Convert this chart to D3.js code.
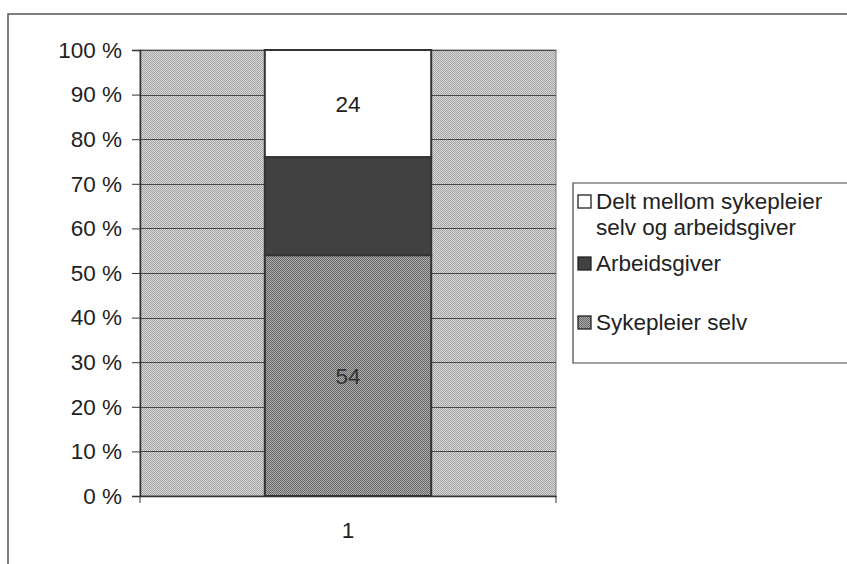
<!DOCTYPE html>
<html><head><meta charset="utf-8">
<script src="https://cdn.jsdelivr.net/npm/d3@7"></script>
<style>html,body{margin:0;padding:0;background:#fff;}svg{display:block;}</style>
</head><body>
<svg id="chart" width="847" height="564"></svg>
<script>
const categories = ["1"];
const seriesNames = ["Sykepleier selv", "Arbeidsgiver", "Delt mellom sykepleier selv og arbeidsgiver"];
const sykepleierSelv = [54];
const arbeidsgiver = [22];
const delt = [24];
const yTicks = [0, 0.1, 0.2, 0.3, 0.4, 0.5, 0.6, 0.7, 0.8, 0.9, 1.0];
const shownLabels = [true, false, true];

const svg = d3.select("#chart");
const font = "'Liberation Sans', Arial, sans-serif";
const ink = "#222";
const fs = 22.5;

// patterns
const defs = svg.append("defs");
function checker(id, a, b) {
  const p = defs.append("pattern").attr("id", id).attr("width", 2).attr("height", 2)
    .attr("patternUnits", "userSpaceOnUse");
  p.append("rect").attr("width", 2).attr("height", 2).attr("fill", a);
  p.append("rect").attr("width", 1).attr("height", 1).attr("fill", b);
  p.append("rect").attr("x", 1).attr("y", 1).attr("width", 1).attr("height", 1).attr("fill", b);
}
checker("bgPat", "#d6d6d6", "#a6a6a6");
checker("selvPat", "#ababab", "#6a6a6a");

// outer frame
svg.append("path").attr("d", "M8,564 V14 H847").attr("fill", "none").attr("stroke", "#555").attr("stroke-width", 1.5);

const m = {left: 140, right: 556, top: 50, bottom: 496};
const x = d3.scaleBand().domain(categories).range([m.left, m.right]).paddingInner(0).paddingOuter(0.75);
const y = d3.scaleLinear().domain([0, 1]).range([m.bottom, m.top]);

// plot area background
svg.append("rect").attr("x", m.left).attr("y", m.top).attr("width", m.right - m.left).attr("height", m.bottom - m.top)
  .attr("fill", "url(#bgPat)").attr("stroke", "#777").attr("stroke-width", 1);

// gridlines
svg.append("g").selectAll("line").data(yTicks).join("line")
  .attr("x1", m.left).attr("x2", m.right).attr("y1", d => Math.round(y(d)) + 0.5).attr("y2", d => Math.round(y(d)) + 0.5)
  .attr("stroke", "#4a4a4a").attr("stroke-width", 1);

// stacked data
const table = categories.map((c, i) => ({cat: c, s0: sykepleierSelv[i], s1: arbeidsgiver[i], s2: delt[i]}));
const stack = d3.stack().keys(["s0", "s1", "s2"]).offset(d3.stackOffsetExpand);
const layers = stack(table);
const fills = ["url(#selvPat)", "#414141", "#ffffff"];

const g = svg.append("g");
layers.forEach((layer, li) => {
  g.selectAll(null).data(layer).join("rect")
    .attr("x", d => x(d.data.cat))
    .attr("width", x.bandwidth())
    .attr("y", d => y(d[1]))
    .attr("height", d => y(d[0]) - y(d[1]))
    .attr("fill", fills[li])
    .attr("stroke", "#333").attr("stroke-width", 2);
});
// value labels
layers.forEach((layer, li) => {
  if (!shownLabels[li]) return;
  g.selectAll(null).data(layer).join("text")
    .attr("x", d => x(d.data.cat) + x.bandwidth() / 2)
    .attr("y", d => (y(d[0]) + y(d[1])) / 2)
    .attr("dy", "0.36em")
    .attr("text-anchor", "middle")
    .attr("font-family", font).attr("font-size", fs).attr("fill", li === 0 ? "#333" : ink)
    .text(d => d.data[layer.key]);
});

// y axis
const yAxis = d3.axisLeft(y).tickValues(yTicks).tickSize(8).tickPadding(10)
  .tickFormat(d => Math.round(d * 100) + " %");
const ya = svg.append("g").attr("transform", `translate(${m.left},0)`).call(yAxis);
ya.select(".domain").attr("stroke", "#333").attr("stroke-width", 1.5);
ya.selectAll(".tick line").attr("stroke", "#333");
ya.selectAll("text").attr("font-family", font).attr("font-size", fs).attr("fill", ink);

// x axis
const xa = svg.append("g").attr("transform", `translate(0,${m.bottom})`)
  .call(d3.axisBottom(x).tickSize(0).tickPadding(26));
xa.select(".domain").attr("stroke", "#333").attr("stroke-width", 1.5);
xa.selectAll("text").attr("font-family", font).attr("font-size", fs).attr("fill", ink);
xa.selectAll("line.edge").data([m.left, m.right]).join("line").attr("class", "edge")
  .attr("x1", d => d).attr("x2", d => d).attr("y1", 0).attr("y2", 7).attr("stroke", "#333");

// legend
svg.append("path").attr("d", "M847,183 H573 V363 H847").attr("fill", "#fff").attr("stroke", "#444").attr("stroke-width", 1.2);
const legendItems = [
  {lines: ["Delt mellom sykepleier", "selv og arbeidsgiver"], fill: "#fff", y: 209},
  {lines: ["Arbeidsgiver"], fill: "#414141", y: 271},
  {lines: ["Sykepleier selv"], fill: "url(#selvPat)", y: 330}
];
const lg = svg.append("g");
legendItems.forEach(it => {
  lg.append("rect").attr("x", 578).attr("y", it.y - 14).attr("width", 13).attr("height", 13)
    .attr("fill", it.fill).attr("stroke", "#222").attr("stroke-width", 1.3);
  it.lines.forEach((t, i) => {
    lg.append("text").attr("x", 596).attr("y", it.y + i * 26)
      .attr("font-family", font).attr("font-size", fs).attr("fill", ink).text(t);
  });
});
</script>
</body></html>
